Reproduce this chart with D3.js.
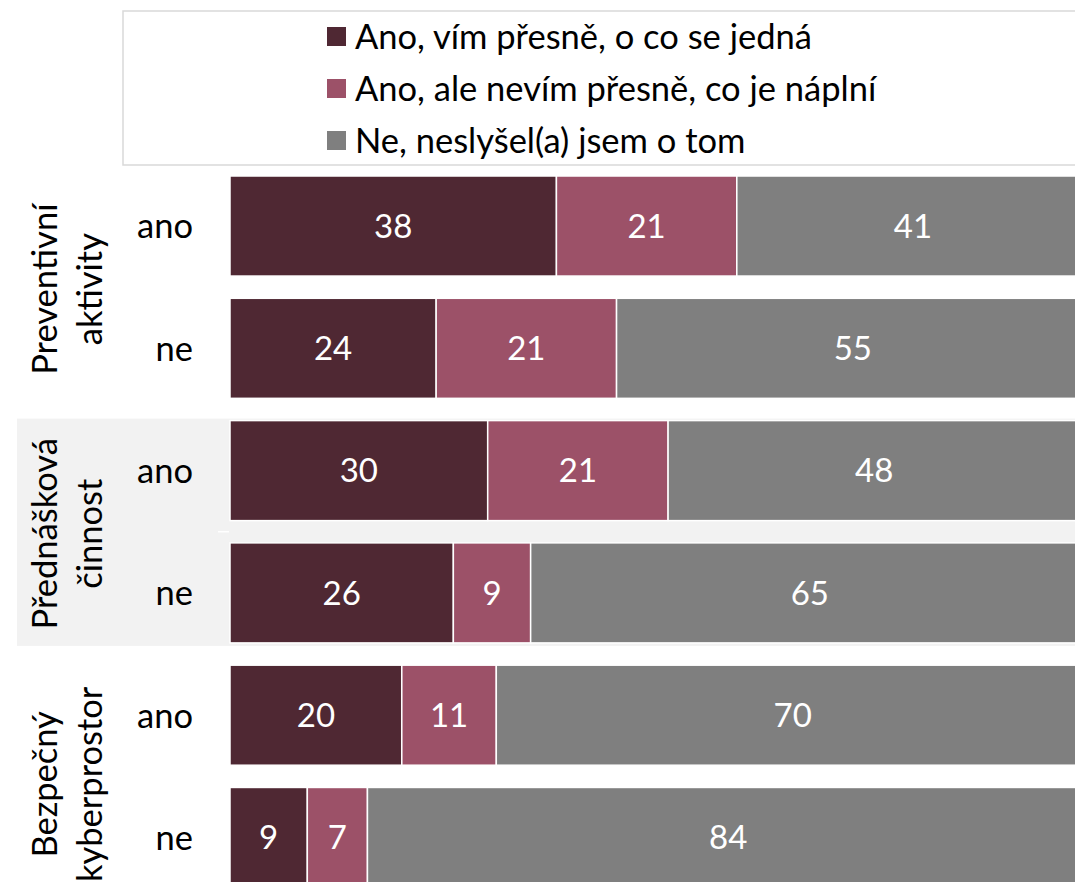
<!DOCTYPE html>
<html>
<head>
<meta charset="utf-8">
<script src="https://cdn.jsdelivr.net/npm/d3@7"></script>
<style>
  html, body { margin: 0; padding: 0; background: #fff; }
  svg { display: block; }
  text { font-family: Lato, "Open Sans", sans-serif; }
</style>
</head>
<body>
<svg id="chart" width="1075" height="882"></svg>
<script>
// Awareness of school programmes, by whether the pupil took part (ano / ne)
const groupNames = [["Preventivní", "aktivity"], ["Přednášková", "činnost"], ["Bezpečný", "kyberprostor"]];
const subLabels = ["ano", "ne"];
const seriesNames = ["Ano, vím přesně, o co se jedná", "Ano, ale nevím přesně, co je náplní", "Ne, neslyšel(a) jsem o tom"];
const knowExactly = [38, 24, 30, 26, 20, 9];
const knowVaguely = [21, 21, 21, 9, 11, 7];
const notHeard = [41, 55, 48, 65, 70, 84];
const seriesColors = ["#4f2833", "#9c5168", "#7f7f7f"];

const W = 1075, H = 882;
const svg = d3.select("#chart");

// one row per (group, ano/ne)
const rows = [];
groupNames.forEach((g, gi) => subLabels.forEach((s, si) => {
  const i = gi * subLabels.length + si;
  rows.push({ id: i, group: gi, sub: s, v0: knowExactly[i], v1: knowVaguely[i], v2: notHeard[i] });
}));

const keys = ["v0", "v1", "v2"];
const stacked = d3.stack().keys(keys)(rows);

const x = d3.scaleLinear().domain([0, 100]).range([230, 1089]);
const y = d3.scaleBand().domain(rows.map(r => r.id)).range([165, 898.5])
  .paddingInner(0.182).paddingOuter(0.09);
const bw = y.bandwidth();
const step = y.step();

// shaded band behind the middle group
const shadeGroup = 1;
const firstRow = shadeGroup * subLabels.length;
const lastRow = firstRow + subLabels.length - 1;
svg.append("rect")
  .attr("x", 17).attr("width", W)
  .attr("y", y(firstRow) - 2)
  .attr("height", y(lastRow) + bw + 3 - (y(firstRow) - 2))
  .attr("fill", "#f2f2f2");

// category separator ticks (white, only visible on the shaded band)
const tickYs = rows.slice(1).map(r => y(r.id) - (step - bw) / 2);
svg.append("g").selectAll("line").data(tickYs).join("line")
  .attr("x1", 218).attr("x2", 229)
  .attr("y1", d => d).attr("y2", d => d)
  .attr("stroke", "#fff").attr("stroke-width", 1.5);

// bars
const layer = svg.append("g").selectAll("g").data(stacked).join("g")
  .attr("fill", (d, i) => seriesColors[i]);
layer.selectAll("rect").data(d => d).join("rect")
  .attr("x", d => x(d[0]))
  .attr("width", d => x(d[1]) - x(d[0]))
  .attr("y", d => y(d.data.id))
  .attr("height", bw)
  .attr("stroke", "#fff").attr("stroke-width", 1.5);

// value labels
const valueSize = 33;
svg.append("g").selectAll("g").data(stacked).join("g")
  .selectAll("text").data(d => d.map(p => ({ p, key: d.key }))).join("text")
  .attr("x", d => (x(d.p[0]) + x(Math.min(d.p[1], 100))) / 2)
  .attr("y", d => y(d.p.data.id) + bw / 2)
  .attr("dy", "0.36em")
  .attr("text-anchor", "middle")
  .attr("fill", "#fff")
  .attr("font-size", valueSize)
  .text(d => d.p.data[d.key]);

// sub-category labels (ano / ne)
const labelSize = 34.5;
svg.append("g").selectAll("text").data(rows).join("text")
  .attr("x", 193)
  .attr("y", d => y(d.id) + bw / 2)
  .attr("dy", "0.36em")
  .attr("text-anchor", "end")
  .attr("font-size", labelSize)
  .attr("fill", "#000")
  .text(d => d.sub);

// group labels, rotated
groupNames.forEach((lines, gi) => {
  const a = gi * subLabels.length, b = a + subLabels.length - 1;
  const cy = (y(a) + y(b) + bw) / 2 + (gi === groupNames.length - 1 ? 8 : 2);
  const baselines = [57, 102];
  lines.forEach((ln, li) => {
    svg.append("text")
      .attr("transform", `translate(${baselines[li]},${cy}) rotate(-90)`)
      .attr("text-anchor", "middle")
      .attr("font-size", labelSize)
      .attr("fill", "#000")
      .text(ln);
  });
});

// legend
const legend = svg.append("g");
legend.append("rect")
  .attr("x", 123).attr("y", 11).attr("width", W).attr("height", 154)
  .attr("fill", "#fff").attr("stroke", "#d9d9d9").attr("stroke-width", 1.5);
const legY = d3.scalePoint().domain(seriesNames).range([36.5, 140.5]);
const item = legend.selectAll("g.item").data(seriesNames).join("g").attr("class", "item")
  .attr("transform", d => `translate(327,${legY(d)})`);
item.append("rect").attr("x", 0).attr("y", -9.5).attr("width", 19).attr("height", 19)
  .attr("fill", (d, i) => seriesColors[i]);
item.append("text").attr("x", 28).attr("dy", "0.36em")
  .attr("font-size", labelSize).attr("fill", "#000")
  .text(d => d);
</script>
</body>
</html>
